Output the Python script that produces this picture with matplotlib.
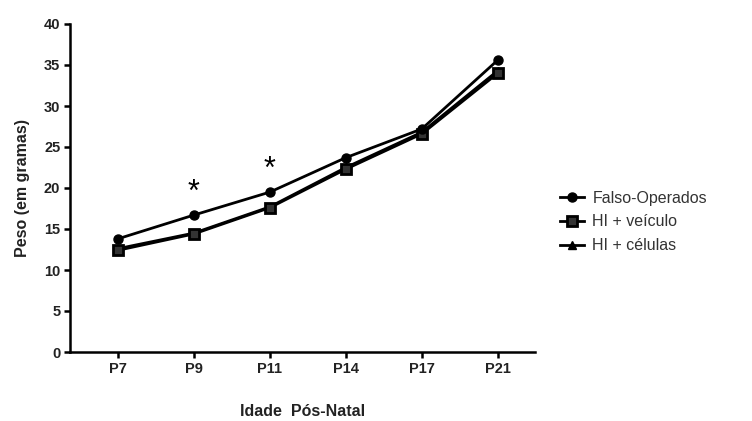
import matplotlib
matplotlib.use("Agg")
import matplotlib.pyplot as plt
from matplotlib.lines import Line2D

plt.rcParams['font.family'] = ['Liberation Sans', 'DejaVu Sans']

categories = ["P7", "P9", "P11", "P14", "P17", "P21"]
falso = [13.8, 16.7, 19.5, 23.7, 27.2, 35.6]
hi_veiculo = [12.4, 14.4, 17.6, 22.3, 26.6, 34.0]
hi_celulas = [12.6, 14.5, 17.7, 22.5, 26.8, 34.3]
y_ticks = [0, 5, 10, 15, 20, 25, 30, 35, 40]
star_idx = [1, 2]

txt = '#222222'
fig = plt.figure(figsize=(7.52, 4.21), dpi=100)
ax = fig.add_axes([70/752, 1-352/421, (535-70)/752, (352-24)/421])
x = list(range(len(categories)))
lw = 2.0
ax.plot(x, hi_celulas, color='black', lw=lw, marker='^', ms=6, zorder=2)
ax.plot(x, hi_veiculo, color='black', lw=lw, marker='s', ms=7.5, mfc='#333333', mec='black', mew=2, zorder=3)
ax.plot(x, falso, color='black', lw=lw, marker='o', ms=6.5, zorder=4)
for i in star_idx:
    ax.text(i, falso[i] + 0.9, "*", ha='center', va='bottom', fontsize=22)

ax.set_xlim(-0.63, 5.49)
ax.set_ylim(0, 40)
ax.set_xticks(x)
ax.set_xticklabels(categories, fontsize=10.5, fontweight='bold', color=txt)
ax.set_yticks(y_ticks)
ax.set_yticklabels([str(v) for v in y_ticks], fontsize=10.5, fontweight='bold', color=txt)
for s in ['top', 'right']:
    ax.spines[s].set_visible(False)
for s in ['left', 'bottom']:
    ax.spines[s].set_linewidth(1.8)
ax.tick_params(width=1.8, length=4, direction='out', pad=3)
ax.set_ylabel("Peso (em gramas)", fontsize=11.5, fontweight='bold', labelpad=10, color=txt)
ax.set_xlabel("Idade  Pós-Natal", fontsize=11.5, fontweight='bold', labelpad=20, color=txt)

handles = [
    Line2D([], [], color='black', lw=lw, marker='o', ms=6.5),
    Line2D([], [], color='black', lw=lw, marker='s', ms=7.5, mfc='#333333', mew=2),
    Line2D([], [], color='black', lw=lw, marker='^', ms=6),
]
labels = ["Falso-Operados", "HI + veículo", "HI + células"]
fig.legend(handles, labels, loc='center left', bbox_to_anchor=(546/752, 1-222/421),
           frameon=False, fontsize=11.5, handlelength=1.5, handletextpad=0.5, labelspacing=0.55,
           labelcolor='#333333')

fig.savefig("out.png", dpi=100)
